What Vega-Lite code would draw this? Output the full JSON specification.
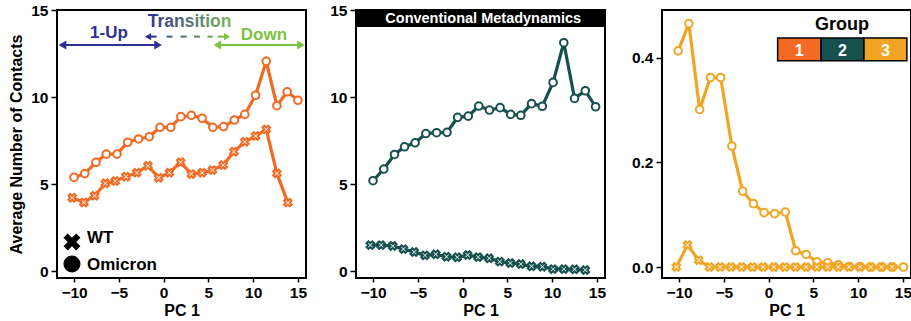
{
  "$schema": "https://vega.github.io/schema/vega-lite/v6.json",
  "padding": {"left": 7, "top": 2, "right": 0, "bottom": 2},
  "datasets": {
    "main": [
      {"g":1,"v":"Omicron","x":-10.0,"y":5.38},{"g":1,"v":"Omicron","x":-8.8,"y":5.6},{"g":1,"v":"Omicron","x":-7.55,"y":6.25},{"g":1,"v":"Omicron","x":-6.4,"y":6.72},{"g":1,"v":"Omicron","x":-5.2,"y":6.72},{"g":1,"v":"Omicron","x":-4.0,"y":7.4},{"g":1,"v":"Omicron","x":-2.8,"y":7.59},{"g":1,"v":"Omicron","x":-1.6,"y":7.72},{"g":1,"v":"Omicron","x":-0.4,"y":8.26},{"g":1,"v":"Omicron","x":0.8,"y":8.26},{"g":1,"v":"Omicron","x":1.93,"y":8.87},{"g":1,"v":"Omicron","x":3.1,"y":8.95},{"g":1,"v":"Omicron","x":4.3,"y":8.78},{"g":1,"v":"Omicron","x":5.5,"y":8.26},{"g":1,"v":"Omicron","x":6.7,"y":8.3},{"g":1,"v":"Omicron","x":7.9,"y":8.68},{"g":1,"v":"Omicron","x":9.07,"y":9.0},{"g":1,"v":"Omicron","x":10.27,"y":10.1},{"g":1,"v":"Omicron","x":11.46,"y":12.05},{"g":1,"v":"Omicron","x":12.65,"y":9.5},{"g":1,"v":"Omicron","x":13.8,"y":10.3},{"g":1,"v":"Omicron","x":15.0,"y":9.81},
      {"g":1,"v":"WT","x":-10.2,"y":4.21},{"g":1,"v":"WT","x":-8.9,"y":3.94},{"g":1,"v":"WT","x":-7.7,"y":4.33},{"g":1,"v":"WT","x":-6.5,"y":5.04},{"g":1,"v":"WT","x":-5.4,"y":5.17},{"g":1,"v":"WT","x":-4.2,"y":5.42},{"g":1,"v":"WT","x":-3.0,"y":5.65},{"g":1,"v":"WT","x":-1.75,"y":6.05},{"g":1,"v":"WT","x":-0.55,"y":5.36},{"g":1,"v":"WT","x":0.65,"y":5.65},{"g":1,"v":"WT","x":1.9,"y":6.25},{"g":1,"v":"WT","x":3.1,"y":5.57},{"g":1,"v":"WT","x":4.3,"y":5.65},{"g":1,"v":"WT","x":5.45,"y":5.8},{"g":1,"v":"WT","x":6.65,"y":6.09},{"g":1,"v":"WT","x":7.85,"y":6.86},{"g":1,"v":"WT","x":9.07,"y":7.43},{"g":1,"v":"WT","x":10.27,"y":7.76},{"g":1,"v":"WT","x":11.46,"y":8.14},{"g":1,"v":"WT","x":12.65,"y":5.61},{"g":1,"v":"WT","x":13.87,"y":3.93},
      {"g":2,"v":"Omicron","x":-10.0,"y":5.19},{"g":2,"v":"Omicron","x":-8.8,"y":5.86},{"g":2,"v":"Omicron","x":-7.6,"y":6.7},{"g":2,"v":"Omicron","x":-6.48,"y":7.14},{"g":2,"v":"Omicron","x":-5.3,"y":7.37},{"g":2,"v":"Omicron","x":-4.1,"y":7.9},{"g":2,"v":"Omicron","x":-2.9,"y":7.95},{"g":2,"v":"Omicron","x":-1.74,"y":7.97},{"g":2,"v":"Omicron","x":-0.55,"y":8.83},{"g":2,"v":"Omicron","x":0.63,"y":8.9},{"g":2,"v":"Omicron","x":1.81,"y":9.48},{"g":2,"v":"Omicron","x":3.0,"y":9.25},{"g":2,"v":"Omicron","x":4.19,"y":9.39},{"g":2,"v":"Omicron","x":5.37,"y":9.0},{"g":2,"v":"Omicron","x":6.5,"y":8.95},{"g":2,"v":"Omicron","x":7.7,"y":9.62},{"g":2,"v":"Omicron","x":8.9,"y":9.47},{"g":2,"v":"Omicron","x":10.1,"y":10.84},{"g":2,"v":"Omicron","x":11.3,"y":13.12},{"g":2,"v":"Omicron","x":12.5,"y":9.92},{"g":2,"v":"Omicron","x":13.7,"y":10.36},{"g":2,"v":"Omicron","x":14.85,"y":9.44},
      {"g":2,"v":"WT","x":-10.3,"y":1.49},{"g":2,"v":"WT","x":-9.1,"y":1.49},{"g":2,"v":"WT","x":-7.8,"y":1.44},{"g":2,"v":"WT","x":-6.6,"y":1.26},{"g":2,"v":"WT","x":-5.4,"y":1.09},{"g":2,"v":"WT","x":-4.2,"y":0.9},{"g":2,"v":"WT","x":-3.0,"y":0.96},{"g":2,"v":"WT","x":-1.8,"y":0.82},{"g":2,"v":"WT","x":-0.6,"y":0.79},{"g":2,"v":"WT","x":0.56,"y":0.92},{"g":2,"v":"WT","x":1.74,"y":0.8},{"g":2,"v":"WT","x":2.97,"y":0.73},{"g":2,"v":"WT","x":4.15,"y":0.54},{"g":2,"v":"WT","x":5.33,"y":0.46},{"g":2,"v":"WT","x":6.5,"y":0.4},{"g":2,"v":"WT","x":7.7,"y":0.27},{"g":2,"v":"WT","x":8.9,"y":0.25},{"g":2,"v":"WT","x":10.1,"y":0.11},{"g":2,"v":"WT","x":11.3,"y":0.11},{"g":2,"v":"WT","x":12.5,"y":0.1},{"g":2,"v":"WT","x":13.7,"y":0.06},
      {"g":3,"v":"Omicron","x":-10.1,"y":0.413},{"g":3,"v":"Omicron","x":-8.9,"y":0.465},{"g":3,"v":"Omicron","x":-7.7,"y":0.301},{"g":3,"v":"Omicron","x":-6.5,"y":0.362},{"g":3,"v":"Omicron","x":-5.35,"y":0.362},{"g":3,"v":"Omicron","x":-4.1,"y":0.231},{"g":3,"v":"Omicron","x":-2.9,"y":0.145},{"g":3,"v":"Omicron","x":-1.7,"y":0.121},{"g":3,"v":"Omicron","x":-0.5,"y":0.104},{"g":3,"v":"Omicron","x":0.67,"y":0.102},{"g":3,"v":"Omicron","x":1.87,"y":0.105},{"g":3,"v":"Omicron","x":3.03,"y":0.031},{"g":3,"v":"Omicron","x":4.2,"y":0.024},{"g":3,"v":"Omicron","x":5.4,"y":0.01},{"g":3,"v":"Omicron","x":6.6,"y":0.008},{"g":3,"v":"Omicron","x":7.8,"y":0.004},{"g":3,"v":"Omicron","x":9.0,"y":0.001},{"g":3,"v":"Omicron","x":10.2,"y":0.001},{"g":3,"v":"Omicron","x":11.4,"y":0.0},{"g":3,"v":"Omicron","x":12.6,"y":0.0},{"g":3,"v":"Omicron","x":13.8,"y":0.0},{"g":3,"v":"Omicron","x":15.05,"y":0.0},
      {"g":3,"v":"WT","x":-10.3,"y":0.0},{"g":3,"v":"WT","x":-9.05,"y":0.042},{"g":3,"v":"WT","x":-7.8,"y":0.013},{"g":3,"v":"WT","x":-6.6,"y":0.0},{"g":3,"v":"WT","x":-5.4,"y":0.0},{"g":3,"v":"WT","x":-4.2,"y":0.0},{"g":3,"v":"WT","x":-3.0,"y":0.0},{"g":3,"v":"WT","x":-1.8,"y":0.0},{"g":3,"v":"WT","x":-0.6,"y":0.0},{"g":3,"v":"WT","x":0.6,"y":0.0},{"g":3,"v":"WT","x":1.8,"y":0.0},{"g":3,"v":"WT","x":3.0,"y":0.0},{"g":3,"v":"WT","x":4.2,"y":0.0},{"g":3,"v":"WT","x":5.4,"y":0.0},{"g":3,"v":"WT","x":6.6,"y":0.0},{"g":3,"v":"WT","x":7.8,"y":0.0},{"g":3,"v":"WT","x":9.0,"y":0.0},{"g":3,"v":"WT","x":10.2,"y":0.0},{"g":3,"v":"WT","x":11.4,"y":0.0},{"g":3,"v":"WT","x":12.6,"y":0.0},{"g":3,"v":"WT","x":13.8,"y":0.0}
    ],
    "rules": [
      {"x":-11.4,"x2":-0.5,"y":12.99,"t":0,"w":"solid"},
      {"x":5.9,"x2":15.4,"y":12.99,"t":1,"w":"solid"},
      {"x":-1.9,"x2":-0.78,"y":13.47,"t":0,"w":"dash"},
      {"x":0.33,"x2":1.0,"y":13.47,"t":0.3,"w":"dash"},
      {"x":1.9,"x2":2.57,"y":13.47,"t":0.45,"w":"dash"},
      {"x":3.4,"x2":4.07,"y":13.47,"t":0.6,"w":"dash"},
      {"x":4.9,"x2":5.47,"y":13.47,"t":0.75,"w":"dash"},
      {"x":6.03,"x2":7.0,"y":13.47,"t":1,"w":"dash"}
    ],
    "heads": [
      {"x":-11.29,"y":12.99,"t":0,"w":"solid","d":"L"},
      {"x":-0.61,"y":12.99,"t":0,"w":"solid","d":"R"},
      {"x":6.0,"y":12.99,"t":1,"w":"solid","d":"L"},
      {"x":15.35,"y":12.99,"t":1,"w":"solid","d":"R"},
      {"x":-1.73,"y":13.47,"t":0,"w":"dash","d":"L"},
      {"x":7.09,"y":13.47,"t":1,"w":"dash","d":"R"}
    ],
    "labels": [
      {"label":"1-Up","x":-6.1,"y":13.37,"t":0,"fs":"a"},
      {"label":"Down","x":11.2,"y":13.28,"t":1,"fs":"b"}
    ],
    "leg": [
      {"v":"WT","x":-10.23,"y":1.67,"lx":-8.55,"ly":1.59},
      {"v":"Omicron","x":-10.23,"y":0.4,"lx":-8.55,"ly":0.06}
    ],
    "grp": [
      {"g":"1","x":1.01,"x2":5.86,"xm":3.43},
      {"g":"2","x":5.86,"x2":10.65,"xm":8.25},
      {"g":"3","x":10.65,"x2":15.44,"xm":13.05}
    ]
  },
  "spacing": 19,
  "hconcat": [
    {
      "width": 249, "height": 268,
      "layer": [
        {
          "data": {"name": "main"},
          "transform": [{"filter": "datum.g == 1"}],
          "layer": [
            {"mark": {"type": "line", "color": "#F26A24", "strokeWidth": 3.2},
             "encoding": {
               "x": {"field": "x", "type": "quantitative", "scale": {"domain": [-11.9, 15.9], "nice": false, "zero": false}, "axis": {"values": [-10, -5, 0, 5, 10, 15], "title": "PC 1"}},
               "y": {"field": "y", "type": "quantitative", "scale": {"domain": [-0.4, 15], "nice": false, "zero": false}, "axis": {"values": [0, 5, 10, 15], "title": "Average Number of Contacts", "minExtent": 30, "maxExtent": 30, "titlePadding": 3}},
               "detail": {"field": "v"}}},
            {"mark": {"type": "point", "filled": true, "fill": "white", "stroke": "#F26A24", "strokeWidth": 2, "size": 58, "opacity": 1},
             "encoding": {
               "x": {"field": "x", "type": "quantitative"},
               "y": {"field": "y", "type": "quantitative"},
               "shape": {"field": "v", "type": "nominal",
                 "scale": {"domain": ["WT", "Omicron"], "range": ["M-1,-0.5L-0.5,-1L0,-0.5L0.5,-1L1,-0.5L0.5,0L1,0.5L0.5,1L0,0.5L-0.5,1L-1,0.5L-0.5,0Z", "circle"]},
                 "legend": null}}}
          ]
        },
        {
          "data": {"name": "leg"},
          "layer": [
            {"mark": {"type": "point", "filled": true, "color": "black", "size": 290, "opacity": 1},
             "encoding": {
               "x": {"field": "x", "type": "quantitative"},
               "y": {"field": "y", "type": "quantitative"},
               "shape": {"field": "v", "type": "nominal", "legend": null}}},
            {"mark": {"type": "text", "color": "black", "fontSize": 17, "fontWeight": "bold", "font": "Liberation Sans", "align": "left", "baseline": "alphabetic"},
             "encoding": {
               "x": {"field": "lx", "type": "quantitative"},
               "y": {"field": "ly", "type": "quantitative"},
               "text": {"field": "v"}}}
          ]
        },
        {
          "data": {"name": "rules"},
          "mark": {"type": "rule"},
          "encoding": {
            "x": {"field": "x", "type": "quantitative"},
            "x2": {"field": "x2"},
            "y": {"field": "y", "type": "quantitative"},
            "color": {"field": "t", "type": "quantitative", "scale": {"domain": [0, 1], "range": ["#2E3192", "#7CC242"], "interpolate": "rgb"}, "legend": null},
            "strokeWidth": {"field": "w", "type": "nominal", "scale": {"domain": ["solid", "dash"], "range": [2, 2]}, "legend": null}
          }
        },
        {
          "data": {"name": "heads"},
          "transform": [{"filter": "datum.d == 'L'"}],
          "mark": {"type": "point", "shape": "triangle-left", "filled": true, "opacity": 1},
          "encoding": {
            "x": {"field": "x", "type": "quantitative"},
            "y": {"field": "y", "type": "quantitative"},
            "color": {"field": "t", "type": "quantitative", "scale": {"domain": [0, 1], "range": ["#2E3192", "#7CC242"], "interpolate": "rgb"}, "legend": null},
            "size": {"field": "w", "type": "nominal", "scale": {"domain": ["solid", "dash"], "range": [80, 50]}, "legend": null}
          }
        },
        {
          "data": {"name": "heads"},
          "transform": [{"filter": "datum.d == 'R'"}],
          "mark": {"type": "point", "shape": "triangle-right", "filled": true, "opacity": 1},
          "encoding": {
            "x": {"field": "x", "type": "quantitative"},
            "y": {"field": "y", "type": "quantitative"},
            "color": {"field": "t", "type": "quantitative", "scale": {"domain": [0, 1], "range": ["#2E3192", "#7CC242"], "interpolate": "rgb"}, "legend": null},
            "size": {"field": "w", "type": "nominal", "scale": {"domain": ["solid", "dash"], "range": [80, 50]}, "legend": null}
          }
        },
        {
          "data": {"name": "labels"},
          "mark": {"type": "text", "fontSize": 17, "fontWeight": "bold", "font": "Liberation Sans", "align": "center", "baseline": "alphabetic"},
          "encoding": {
            "x": {"field": "x", "type": "quantitative"},
            "y": {"field": "y", "type": "quantitative"},
            "text": {"field": "label"},
            "color": {"field": "t", "type": "quantitative", "scale": {"domain": [0, 1], "range": ["#2E3192", "#7CC242"], "interpolate": "rgb"}, "legend": null}
          }
        },
        {
          "data": {"values": [{"label": "Transition", "x": 2.9, "y": 14.04}]},
          "mark": {"type": "text", "fontSize": 17.5, "fontWeight": "bold", "font": "Liberation Sans", "align": "center", "baseline": "alphabetic",
            "fill": {"gradient": "linear", "x1": 0, "y1": 0, "x2": 1, "y2": 0, "stops": [{"offset": 0, "color": "#2E3192"}, {"offset": 1, "color": "#7DB85A"}]}},
          "encoding": {
            "x": {"field": "x", "type": "quantitative"},
            "y": {"field": "y", "type": "quantitative"},
            "text": {"field": "label"}
          }
        }
      ]
    },
    {
      "width": 249, "height": 268,
      "layer": [
        {
          "data": {"name": "main"},
          "transform": [{"filter": "datum.g == 2"}],
          "layer": [
            {"mark": {"type": "line", "color": "#17514F", "strokeWidth": 3.2},
             "encoding": {
               "x": {"field": "x", "type": "quantitative", "scale": {"domain": [-11.9, 15.9], "nice": false, "zero": false}, "axis": {"values": [-10, -5, 0, 5, 10, 15], "title": "PC 1"}},
               "y": {"field": "y", "type": "quantitative", "scale": {"domain": [-0.4, 15], "nice": false, "zero": false}, "axis": {"values": [0, 5, 10, 15], "title": null, "minExtent": 28, "maxExtent": 28}},
               "detail": {"field": "v"}}},
            {"mark": {"type": "point", "filled": true, "fill": "white", "stroke": "#17514F", "strokeWidth": 2, "size": 58, "opacity": 1},
             "encoding": {
               "x": {"field": "x", "type": "quantitative"},
               "y": {"field": "y", "type": "quantitative"},
               "shape": {"field": "v", "type": "nominal",
                 "scale": {"domain": ["WT", "Omicron"], "range": ["M-1,-0.5L-0.5,-1L0,-0.5L0.5,-1L1,-0.5L0.5,0L1,0.5L0.5,1L0,0.5L-0.5,1L-1,0.5L-0.5,0Z", "circle"]},
                 "legend": null}}}
          ]
        },
        {
          "data": {"values": [{"y": 14.02, "y2": 15}]},
          "mark": {"type": "rect", "color": "black"},
          "encoding": {
            "x": {"datum": -11.9},
            "x2": {"datum": 15.9},
            "y": {"field": "y", "type": "quantitative"},
            "y2": {"field": "y2"}
          }
        },
        {
          "data": {"values": [{"label": "Conventional Metadynamics", "x": 2.3, "y": 14.27}]},
          "mark": {"type": "text", "color": "white", "fontSize": 14.5, "fontWeight": "bold", "font": "Liberation Sans", "align": "center", "baseline": "alphabetic"},
          "encoding": {
            "x": {"field": "x", "type": "quantitative"},
            "y": {"field": "y", "type": "quantitative"},
            "text": {"field": "label"}
          }
        }
      ]
    },
    {
      "width": 249, "height": 268,
      "layer": [
        {
          "data": {"name": "main"},
          "transform": [{"filter": "datum.g == 3"}],
          "layer": [
            {"mark": {"type": "line", "color": "#F2A524", "strokeWidth": 3.2},
             "encoding": {
               "x": {"field": "x", "type": "quantitative", "scale": {"domain": [-11.9, 15.9], "nice": false, "zero": false}, "axis": {"values": [-10, -5, 0, 5, 10, 15], "title": "PC 1"}},
               "y": {"field": "y", "type": "quantitative", "scale": {"domain": [-0.021, 0.491], "nice": false, "zero": false}, "axis": {"values": [0, 0.2, 0.4], "format": ".1f", "title": null, "minExtent": 35, "maxExtent": 35}},
               "detail": {"field": "v"}}},
            {"mark": {"type": "point", "filled": true, "fill": "white", "stroke": "#F2A524", "strokeWidth": 2, "size": 58, "opacity": 1},
             "encoding": {
               "x": {"field": "x", "type": "quantitative"},
               "y": {"field": "y", "type": "quantitative"},
               "shape": {"field": "v", "type": "nominal",
                 "scale": {"domain": ["WT", "Omicron"], "range": ["M-1,-0.5L-0.5,-1L0,-0.5L0.5,-1L1,-0.5L0.5,0L1,0.5L0.5,1L0,0.5L-0.5,1L-1,0.5L-0.5,0Z", "circle"]},
                 "legend": null}}}
          ]
        },
        {
          "data": {"name": "grp"},
          "mark": {"type": "rect", "stroke": "black", "strokeWidth": 1.5, "opacity": 1},
          "encoding": {
            "x": {"field": "x", "type": "quantitative"},
            "x2": {"field": "x2"},
            "y": {"datum": 0.394},
            "y2": {"datum": 0.4375},
            "color": {"field": "g", "type": "nominal", "scale": {"domain": ["1", "2", "3"], "range": ["#F26A24", "#17514F", "#F2A524"]}, "legend": null}
          }
        },
        {
          "data": {"name": "grp"},
          "mark": {"type": "text", "color": "white", "fontSize": 16, "fontWeight": "bold", "font": "Liberation Sans", "align": "center", "baseline": "alphabetic"},
          "encoding": {
            "x": {"field": "xm", "type": "quantitative"},
            "y": {"datum": 0.404},
            "text": {"field": "g"}
          }
        },
        {
          "data": {"values": [{"label": "Group", "x": 8.2, "y": 0.4528}]},
          "mark": {"type": "text", "color": "black", "fontSize": 18, "fontWeight": "bold", "font": "Liberation Sans", "align": "center", "baseline": "alphabetic"},
          "encoding": {
            "x": {"field": "x", "type": "quantitative"},
            "y": {"field": "y", "type": "quantitative"},
            "text": {"field": "label"}
          }
        }
      ]
    }
  ],
  "resolve": {
    "scale": {"x": "independent", "y": "independent", "shape": "independent", "color": "independent", "size": "independent", "strokeWidth": "independent"},
    "legend": {"shape": "independent"}
  },
  "config": {
    "view": {"stroke": "black", "strokeWidth": 2},
    "font": "Liberation Sans",
    "axis": {"grid": false, "domain": false, "tickColor": "black", "tickWidth": 1.5, "labelFont": "Liberation Sans", "labelFontSize": 15.5, "labelFontWeight": "bold", "labelColor": "black", "titleFont": "Liberation Sans", "titleFontSize": 16, "titleFontWeight": "bold", "titleColor": "black"},
    "axisX": {"tickSize": 4, "labelPadding": 3, "titlePadding": 2},
    "axisY": {"tickSize": 6, "labelPadding": 3}
  }
}
